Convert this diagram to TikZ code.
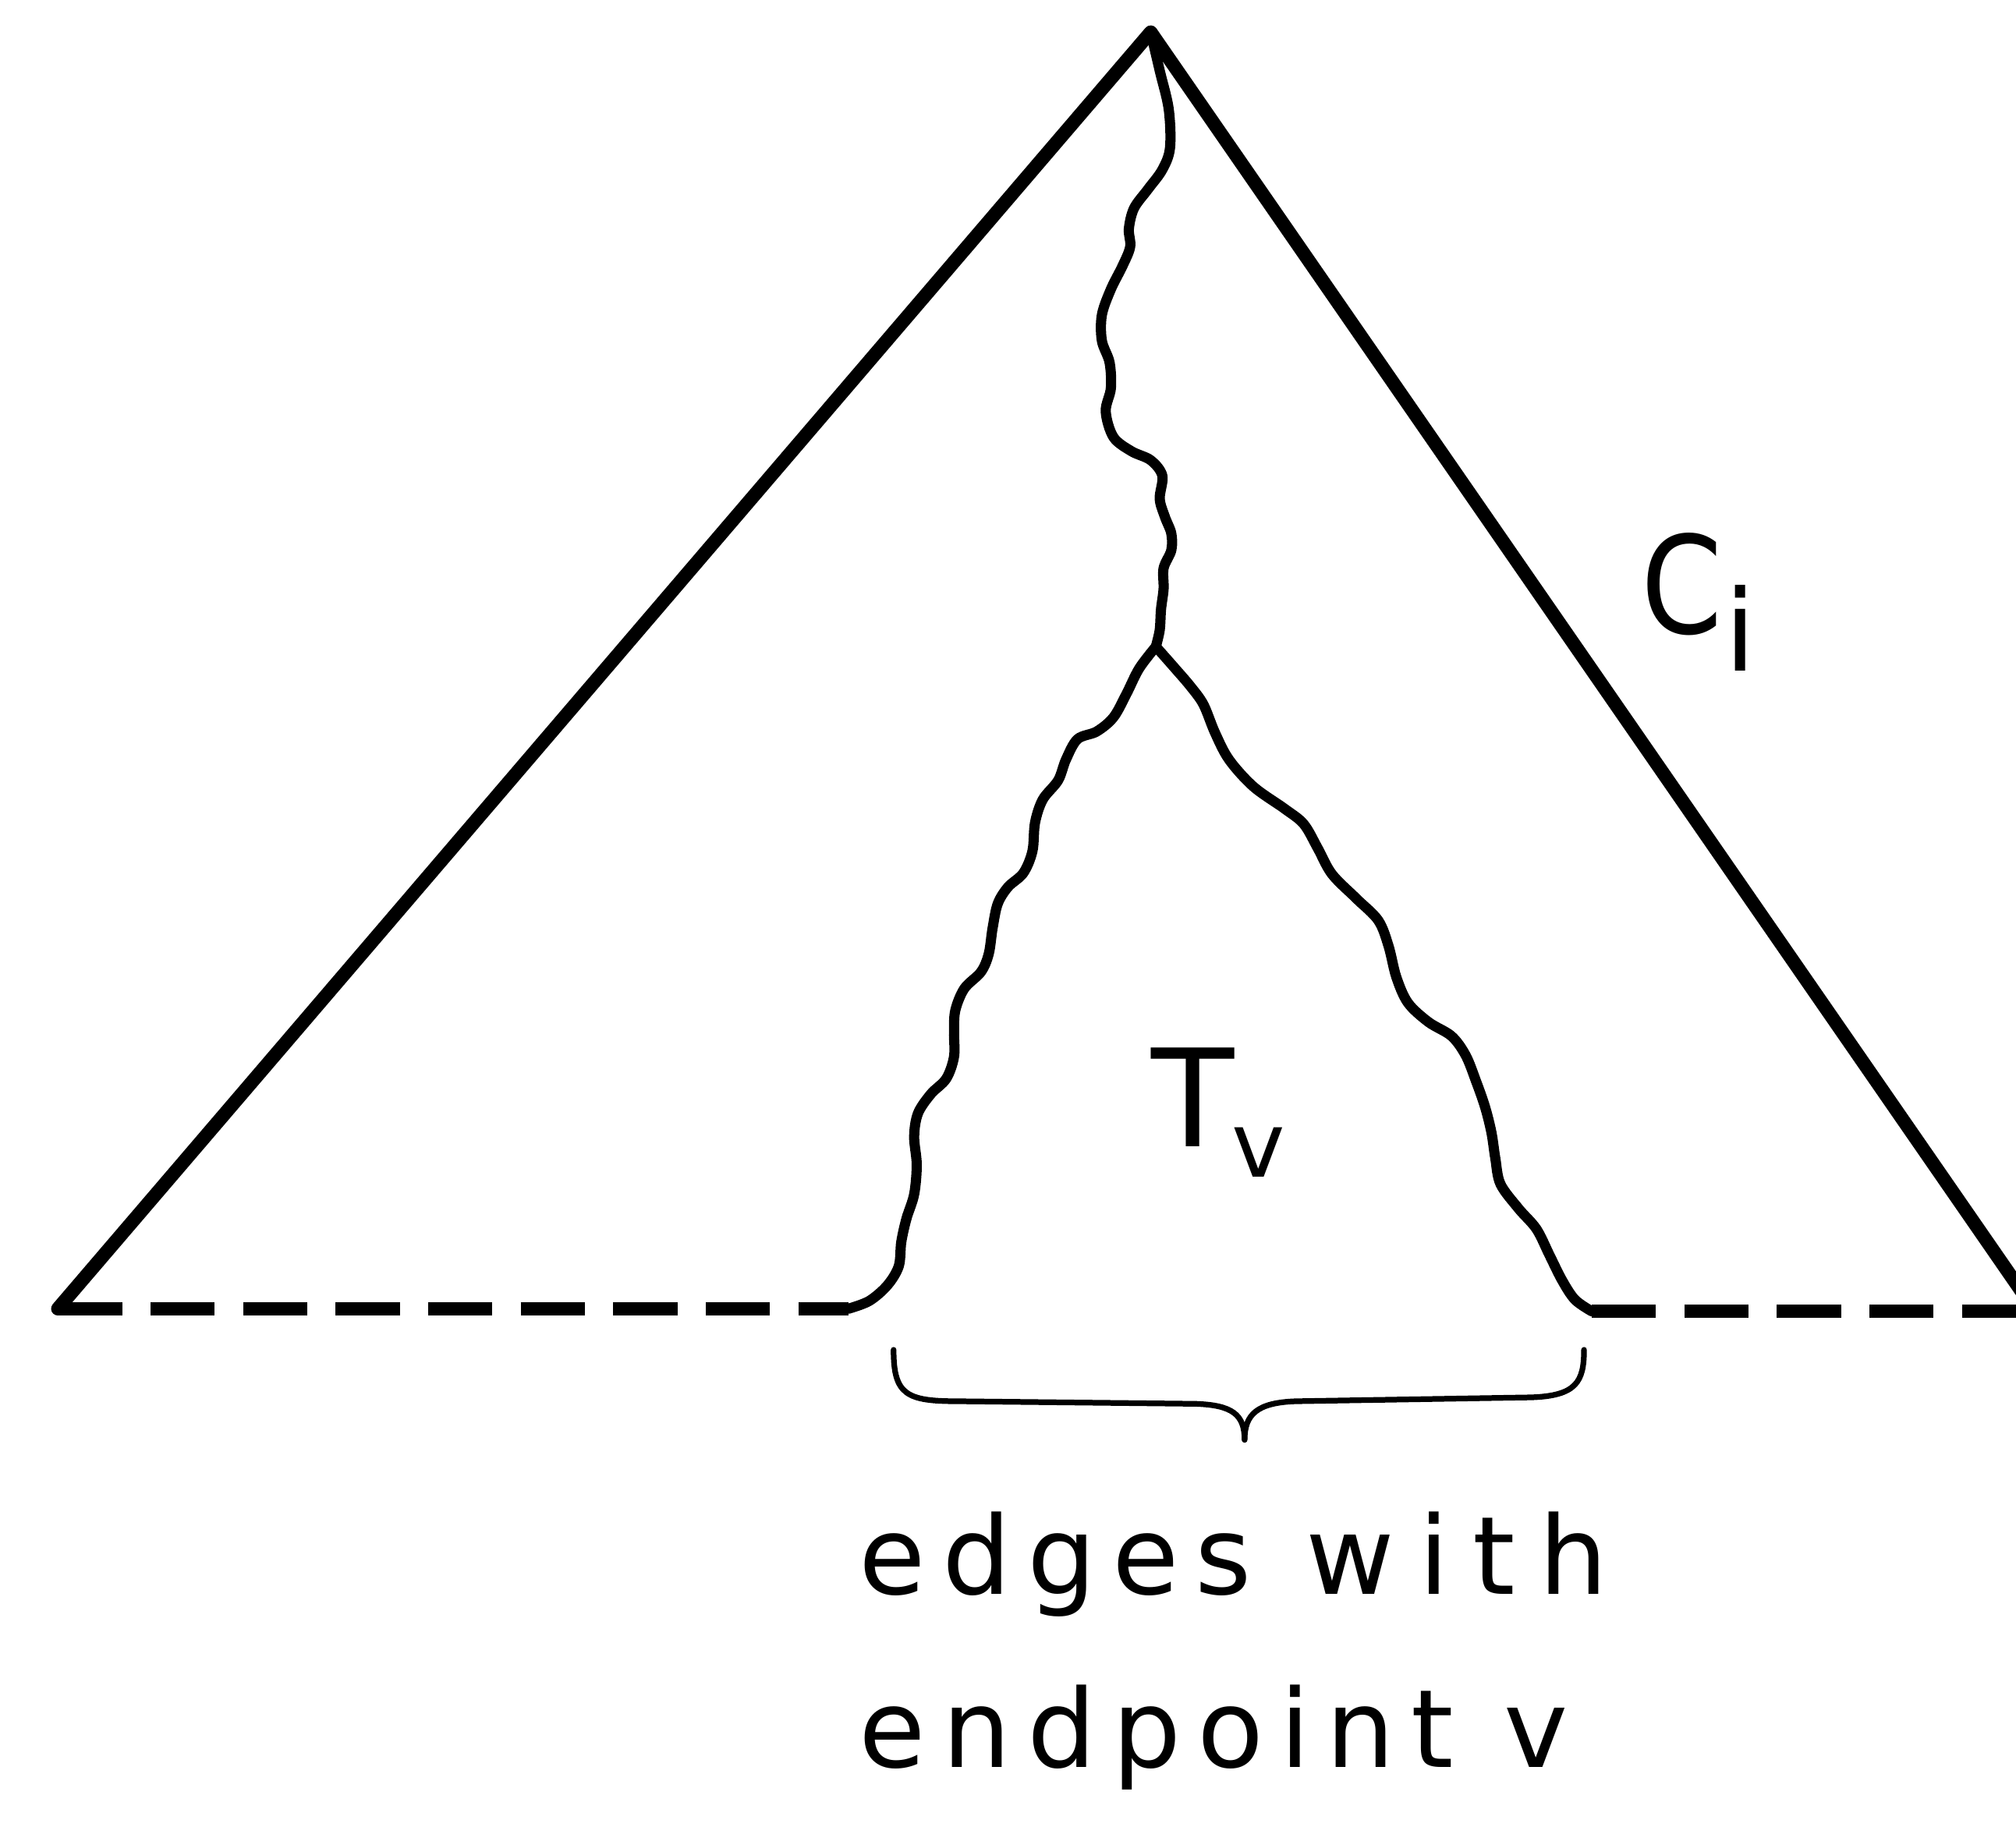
\documentclass[tikz,border=0pt]{standalone}
\usepackage{fontspec}
\setmainfont{DejaVu Sans}
\newfontfamily\lettering[LetterSpace=15]{DejaVu Sans}
\newfontfamily\letteringwide[LetterSpace=22]{DejaVu Sans}
\begin{document}
\begin{tikzpicture}[x=0.02cm,y=-0.02cm,
  tri/.style={line width=6pt, line join=round, line cap=round},
  wig/.style={line width=4.5pt, line join=round, line cap=round},
  dashbase/.style={line width=5.8pt, dash pattern=on 1.0cm off 0.44cm},
  bracestyle/.style={line width=2.5pt, line join=round, line cap=round},
  lbl/.style={font=\fontsize{48}{58}\selectfont\lettering, inner sep=0pt},
  sym/.style={inner sep=0pt}]
\useasboundingbox (0,0) rectangle (1568,1421);
\clip (0,0) rectangle (1568,1421);

\coordinate (A) at (895,25);
\coordinate (L) at (45,1018);
\coordinate (R) at (1583,1020);
\coordinate (B) at (899,503);
\coordinate (F1) at (660,1018);
\coordinate (F2) at (1238,1020);

% outer triangle
\draw[tri] (L) -- (A) -- (R);
% dashed base
\draw[dashbase] (L) -- (F1);
\draw[dashbase] (F2) -- (R);

% trunk of T_v
\draw[wig] plot[smooth, tension=0.55] coordinates {(A) (902,55) (909,85) (910,115) (904,132) (893,147) (882,162) (878,178) (879,192) (873,207) (864,225) (857,245) (857,265) (863,282) (864,302) (860,320) (866,340) (880,351) (895,358) (904,370) (902,388) (906,402) (911,415) (911,428) (905,442) (905,458) (903,474) (902,490) (B)};
% left branch
\draw[wig] plot[smooth, tension=0.55] coordinates {(B) (886,520) (876,540) (866,558) (853,569) (838,575) (829,591) (823,607) (811,622) (805,640) (803,662) (796,679) (784,690) (776,703) (772,722) (769,742) (763,756) (750,769) (743,786) (742,803) (742,822) (736,839) (724,851) (714,866) (711,884) (713,906) (711,929) (705,948) (701,966) (699,985) (690,1000) (676,1012) (F1)};
% right branch
\draw[wig] plot[smooth, tension=0.55] coordinates {(B) (914,520) (926,534) (936,548) (945,570) (956,591) (975,612) (999,629) (1014,641) (1025,660) (1036,680) (1055,699) (1072,716) (1080,736) (1086,760) (1095,780) (1111,795) (1129,806) (1140,821) (1148,841) (1155,861) (1160,881) (1163,901) (1167,921) (1181,940) (1195,956) (1205,976) (1215,996) (1225,1011) (F2)};

% brace
\coordinate (BL) at (695,1050);
\coordinate (BR) at (1232,1050);
\coordinate (BT) at (968,1120);
\draw[bracestyle] (BL) .. controls (695,1085) and (705,1090) .. (745,1090)
  -- (930,1092) .. controls (958,1093) and (968,1100) .. (BT);
\draw[bracestyle] (BT) .. controls (968,1100) and (978,1091) .. (1008,1090)
  -- (1190,1087) .. controls (1226,1086) and (1232,1075) .. (BR);

% labels
\node[sym, anchor=base west] (Tv) at (895,892)
  {\fontsize{60}{70}\selectfont T\hspace{-1pt}\raisebox{-13.5pt}{\fontsize{40}{48}\selectfont v}};
\node[sym, anchor=base west] (Ci) at (1276,493)
  {\fontsize{60}{70}\selectfont\scalebox{0.86}[1]{C}\hspace{1pt}\raisebox{-16.5pt}{\fontsize{50}{60}\selectfont i}};
\node[lbl, anchor=base west] (t1) at (668,1240) {edges\hspace{24pt}{\letteringwide with}};
\node[lbl, anchor=base west] (t2) at (668,1375) {endpoint\hspace{22pt}v};
\end{tikzpicture}
\end{document}
